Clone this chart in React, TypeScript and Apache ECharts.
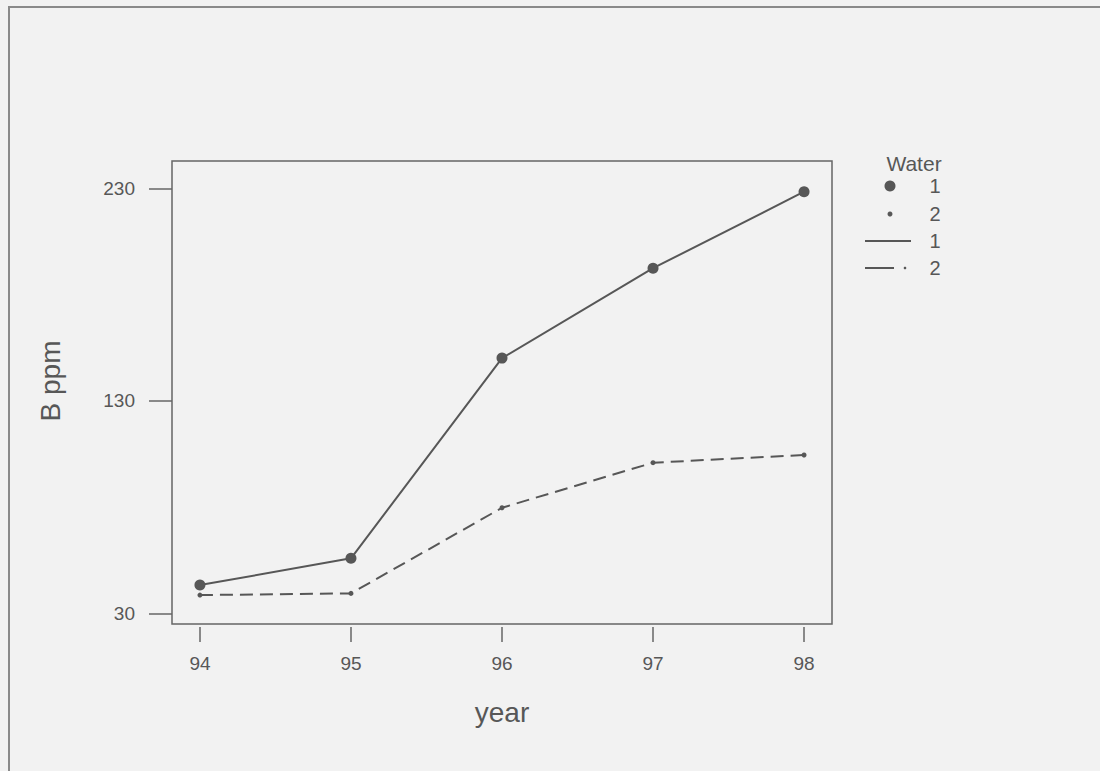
import React, { useEffect, useRef } from "react";
import * as echarts from "echarts";

const years = [94, 95, 96, 97, 98];
const water1 = [43.3, 55.9, 150.1, 192.4, 228.4];
const water2 = [38.6, 39.4, 79.7, 100.9, 104.5];
const yTicks = [30, 130, 230];
const xTitle = "year";
const yTitle = "B ppm";
const legendTitle = "Water";
const legendLabels = ["1", "2", "1", "2"];

const INK = "#575757";
const FONT = "'Liberation Sans', Arial, sans-serif";

export default function App() {
  const ref = useRef<HTMLDivElement>(null);
  useEffect(() => {
    if (!ref.current) return;
    const chart = echarts.init(ref.current, null, { renderer: "svg" });
    const lx = 890;
    const rows = [186, 214, 241, 268];
    chart.setOption({
      animation: false,
      backgroundColor: "#f2f2f2",
      grid: {
        left: 172,
        top: 161,
        width: 660,
        height: 463,
        show: true,
        borderColor: "#666",
        borderWidth: 1.5,
        backgroundColor: "transparent",
      },
      xAxis: {
        type: "value",
        min: 93.815,
        max: 98.185,
        offset: 3,
        axisLine: { show: false },
        splitLine: { show: false },
        axisTick: {
          show: true,
          length: 15,
          customValues: years,
          lineStyle: { color: "#666", width: 1.5 },
        },
        axisLabel: {
          customValues: years,
          margin: 27,
          fontSize: 19,
          color: INK,
          fontFamily: FONT,
        },
      },
      yAxis: {
        type: "value",
        min: 25.0,
        max: 242.85,
        axisLine: { show: false },
        splitLine: { show: false },
        axisTick: {
          show: true,
          length: 23,
          customValues: yTicks,
          lineStyle: { color: "#666", width: 1.5 },
        },
        axisLabel: {
          customValues: yTicks,
          margin: 37,
          fontSize: 19,
          color: INK,
          fontFamily: FONT,
        },
      },
      series: [
        {
          type: "line",
          data: years.map((y, i) => [y, water1[i]]),
          symbol: "circle",
          symbolSize: 11,
          itemStyle: { color: INK },
          lineStyle: { color: INK, width: 2 },
        },
        {
          type: "line",
          data: years.map((y, i) => [y, water2[i]]),
          symbol: "circle",
          symbolSize: 5,
          itemStyle: { color: INK },
          lineStyle: { color: INK, width: 2, type: [13, 7] },
        },
      ],
      graphic: [
        {
          type: "rect",
          shape: { x: 9, y: 7, width: 1200, height: 900 },
          style: { fill: "none", stroke: "#8a8a8a", lineWidth: 2 },
          silent: true,
        },
        {
          type: "text",
          x: 502,
          y: 712,
          style: {
            text: xTitle,
            fontSize: 28,
            fill: INK,
            fontFamily: FONT,
            align: "center",
            verticalAlign: "middle",
          },
        },
        {
          type: "text",
          x: 50,
          y: 381,
          rotation: Math.PI / 2,
          style: {
            text: yTitle,
            fontSize: 28,
            fill: INK,
            fontFamily: FONT,
            align: "center",
            verticalAlign: "middle",
          },
        },
        {
          type: "text",
          x: 914,
          y: 163,
          style: {
            text: legendTitle,
            fontSize: 21,
            fill: INK,
            fontFamily: FONT,
            align: "center",
            verticalAlign: "middle",
          },
        },
        { type: "circle", shape: { cx: lx, cy: rows[0], r: 5.5 }, style: { fill: INK } },
        { type: "circle", shape: { cx: lx, cy: rows[1], r: 2.5 }, style: { fill: INK } },
        {
          type: "line",
          shape: { x1: 865, y1: rows[2], x2: 911, y2: rows[2] },
          style: { stroke: INK, lineWidth: 2 },
        },
        {
          type: "line",
          shape: { x1: 865, y1: rows[3], x2: 894, y2: rows[3] },
          style: { stroke: INK, lineWidth: 2 },
        },
        { type: "circle", shape: { cx: 905, cy: rows[3], r: 1.3 }, style: { fill: INK } },
        ...legendLabels.map((t, i) => ({
          type: "text",
          x: 935,
          y: rows[i],
          style: {
            text: t,
            fontSize: 20,
            fill: INK,
            fontFamily: FONT,
            align: "center",
            verticalAlign: "middle",
          },
        })),
      ],
    });
    return () => chart.dispose();
  }, []);
  return (
    <div
      ref={ref}
      style={{ position: "fixed", left: 0, top: 0, width: 1100, height: 771 }}
    />
  );
}
